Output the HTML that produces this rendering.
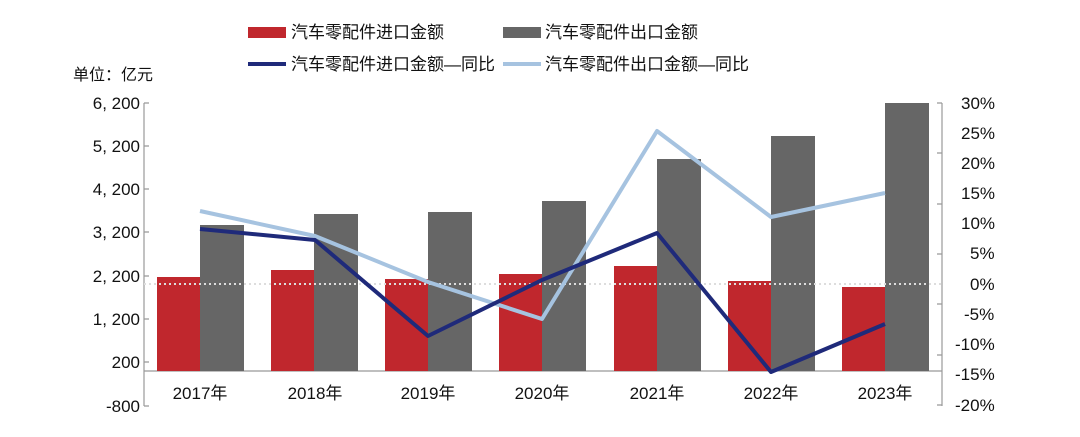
<!DOCTYPE html>
<html><head><meta charset="utf-8"><style>
body{margin:0;background:#fff}
svg text{font-family:"Liberation Sans","Noto Sans CJK SC",sans-serif;fill:#111}
</style></head><body>
<svg width="1080" height="432" xmlns="http://www.w3.org/2000/svg">
<rect x="248" y="27" width="38" height="11" fill="#c0272d"/>
<text x="291" y="38" font-size="17">汽车零配件进口金额</text>
<rect x="503" y="27" width="38" height="11" fill="#666"/>
<text x="545" y="38" font-size="17">汽车零配件出口金额</text>
<line x1="248" y1="64" x2="286" y2="64" stroke="#1f2a7a" stroke-width="4"/>
<text x="291" y="70" font-size="17">汽车零配件进口金额—同比</text>
<line x1="503" y1="64" x2="541" y2="64" stroke="#a6c3e0" stroke-width="4"/>
<text x="545" y="70" font-size="17">汽车零配件出口金额—同比</text>
<text x="73" y="80" font-size="16">单位：亿元</text>
<g stroke="#999" stroke-width="1.2" fill="none">
<line x1="144" y1="103" x2="144" y2="406"/>
<line x1="942" y1="103" x2="942" y2="406"/>
<line x1="144" y1="371" x2="942" y2="371"/>
<path d="M144 103h5M144 146h5M144 189h5M144 232h5M144 276h5M144 319h5M144 362h5M144 406h5"/>
<path d="M937 103h5M937 153h5M937 204h5M937 254h5M937 304h5M937 355h5M937 405h5"/>
</g>
<g font-size="17" text-anchor="end">
<text x="140" y="109">6, 200</text><text x="140" y="152">5, 200</text><text x="140" y="195">4, 200</text>
<text x="140" y="238">3, 200</text><text x="140" y="282">2, 200</text><text x="140" y="325">1, 200</text>
<text x="140" y="368">200</text><text x="140" y="412">-800</text>
</g>
<g font-size="17">
<text x="961" y="109">30%</text><text x="961" y="139">25%</text><text x="961" y="169">20%</text>
<text x="961" y="199">15%</text><text x="961" y="229">10%</text><text x="970" y="259">5%</text>
<text x="970" y="290">0%</text><text x="964" y="320">-5%</text><text x="955" y="350">-10%</text>
<text x="955" y="380">-15%</text><text x="955" y="411">-20%</text>
</g>
<g fill="#c0272d">
<rect x="157" y="277" width="43" height="94"/><rect x="271" y="270" width="43" height="101"/>
<rect x="385" y="279" width="43" height="92"/><rect x="499" y="274" width="43" height="97"/>
<rect x="614" y="266" width="43" height="105"/><rect x="728" y="281" width="43" height="90"/>
<rect x="842" y="287" width="43" height="84"/>
</g>
<g fill="#666">
<rect x="200" y="225" width="44" height="146"/><rect x="314" y="214" width="44" height="157"/>
<rect x="428" y="212" width="44" height="159"/><rect x="542" y="201" width="44" height="170"/>
<rect x="657" y="159" width="44" height="212"/><rect x="771" y="136" width="44" height="235"/>
<rect x="885" y="103" width="44" height="268"/>
</g>
<line x1="144" y1="284" x2="942" y2="284" stroke="#ddd" stroke-width="2" stroke-dasharray="2,3"/>
<polyline points="200,211 315,236 428,282 542,319 657,131 771,217 885,193" fill="none" stroke="#a6c3e0" stroke-width="4" stroke-linejoin="round"/>
<polyline points="200,229 315,240 428,336 542,280 657,233 771,372 885,324" fill="none" stroke="#1f2a7a" stroke-width="4" stroke-linejoin="round"/>
<g font-size="17" text-anchor="middle">
<text x="200" y="399">2017年</text><text x="315" y="399">2018年</text><text x="428" y="399">2019年</text>
<text x="542" y="399">2020年</text><text x="657" y="399">2021年</text><text x="771" y="399">2022年</text>
<text x="885" y="399">2023年</text>
</g>
</svg>
</body></html>
